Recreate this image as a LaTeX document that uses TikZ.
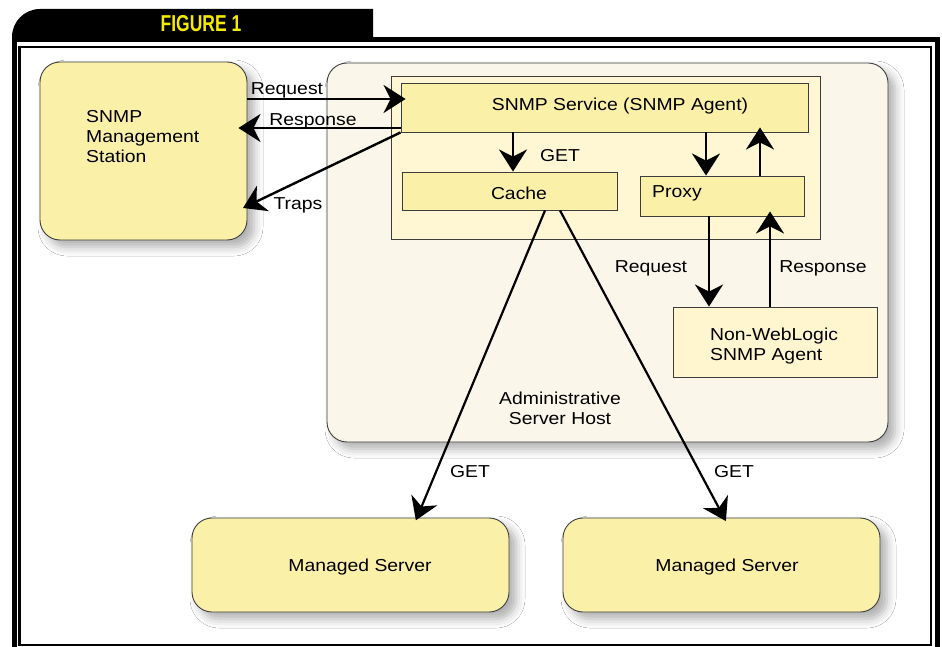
\documentclass[tikz,border=0pt]{standalone}
\usepackage{fontspec}
\setmainfont[FakeStretch=1.12]{Liberation Sans}
\newfontfamily\figfont[FakeStretch=0.76]{Liberation Sans}
\usetikzlibrary{arrows.meta,shadows.blur}
\definecolor{boxyellow}{HTML}{FBF0A8}
\definecolor{hostcream}{HTML}{FAF6EA}
\definecolor{panel}{HTML}{FFF6D4}
\definecolor{agentfill}{HTML}{FFF5CF}
\definecolor{edge}{HTML}{3C3C3C}
\definecolor{figyellow}{HTML}{F4EC00}
\begin{document}
\begin{tikzpicture}[x=1pt,y=-1pt,
  font=\fontsize{17.3}{20}\selectfont,
  softshadow/.style={blur shadow={shadow xshift=7pt,shadow yshift=-7pt,shadow blur radius=9pt,shadow opacity=32}},
  rbox/.style={draw=edge,line width=0.9pt,rounded corners=20pt,inner sep=0pt,softshadow},
  sbox/.style={draw=edge,line width=0.9pt,inner sep=0pt,fill=boxyellow},
  txt/.style={inner sep=0pt,align=center,yshift=-2pt},
  ltxt/.style={inner sep=0pt,align=left,anchor=west,yshift=-2pt},
  arr/.style={-{Stealth[length=22pt,width=28pt,inset=7pt]},line width=2.4pt},
]
\useasboundingbox (0,0) rectangle (942,647);
\fill[white] (0,0) rectangle (942,647);

% header tab
\fill (12,42) -- (12,37) .. controls (12,21.5) and (24.5,9) .. (40,9) -- (373,9) -- (373,42) -- cycle;
\node[inner sep=0pt,text=figyellow,font=\figfont\bfseries\fontsize{23}{25}\selectfont] (figtitle) at (201,24) {FIGURE 1};

% double frame
\draw[line width=5pt] (14,40) rectangle (937.5,665);
\draw[line width=2.5pt] (19.5,46.8) rectangle (931,645);

% administrative server host
\node[rbox,fill=hostcream,minimum width=561pt,minimum height=379pt] (host) at (607.5,252.5) {};
\node[draw=edge,line width=0.9pt,fill=panel,inner sep=0pt,minimum width=429pt,minimum height=163pt] (panel) at (605.5,157.5) {};
\node[txt] (hostlabel) at (560,406) {Administrative\\Server Host};

% management station
\node[rbox,fill=boxyellow,minimum width=207pt,minimum height=178pt] (ms) at (143.5,151) {};
\node[ltxt] (mslabel) at (86,135) {SNMP\\Management\\Station};

% agent components
\node[sbox,minimum width=407pt,minimum height=49pt] (svc) at (604.5,107.5) {};
\node[txt] (svclabel) at (620,104) {SNMP Service (SNMP Agent)};
\node[sbox,minimum width=215pt,minimum height=38pt] (cache) at (509.5,191) {};
\node[txt] (cachelabel) at (519,191) {Cache};
\node[sbox,minimum width=164pt,minimum height=40pt] (proxy) at (722,196) {};
\node[ltxt] (proxylabel) at (652,191) {Proxy};
\node[draw=edge,line width=0.9pt,fill=agentfill,inner sep=0pt,minimum width=204pt,minimum height=70pt] (agent) at (775,342) {};
\node[ltxt] (agentlabel) at (710,344) {Non-WebLogic\\SNMP Agent};

% managed servers
\node[rbox,fill=boxyellow,minimum width=317pt,minimum height=94pt] (msrv1) at (350.5,565) {};
\node[txt] (msrv1label) at (360,565) {Managed Server};
\node[rbox,fill=boxyellow,minimum width=317pt,minimum height=94pt] (msrv2) at (721.5,565) {};
\node[txt] (msrv2label) at (727,565) {Managed Server};

% station <-> service
\draw[arr,shorten >=-5pt] (ms.east |- 0,99) -- (svc.west |- 0,99);
\node[txt] (reqlabel) at (287,88) {Request};
\draw[arr,shorten >=-9pt] (svc.west |- 0,128) -- (ms.east |- 0,128);
\node[txt] (resplabel) at (313,119) {Response};
\coordinate (trapend) at (243,208);
\draw[arr] (svc.south west) -- (trapend);
\node[txt] (traplabel) at (298,203) {Traps};

% service internals
\draw[arr] (svc.south -| 513,0) -- (cache.north -| 513,0);
\node[txt] (getlabel) at (560,154) {GET};
\draw[arr] (svc.south -| 706,0) -- (proxy.north -| 706,0);
\draw[arr,shorten >=-5pt] (proxy.north -| 760,0) -- (svc.south -| 760,0);

% proxy <-> external agent
\draw[arr] (proxy.south -| 709,0) -- (agent.north -| 709,0);
\node[txt] (preqlabel) at (651,266) {Request};
\draw[arr,shorten >=-5pt] (agent.north -| 770,0) -- (proxy.south -| 770,0);
\node[txt] (presplabel) at (823,266) {Response};

% cache -> managed servers
\draw[arr,line width=2.2pt,shorten >=-3pt] (cache.south -| 545,0) -- (msrv1.north -| 417,0);
\node[txt] (get1label) at (470,470) {GET};
\draw[arr,line width=2.2pt,shorten >=-4pt] (cache.south -| 560,0) -- (msrv2.north -| 724,0);
\node[txt] (get2label) at (734,470) {GET};
\end{tikzpicture}
\end{document}
